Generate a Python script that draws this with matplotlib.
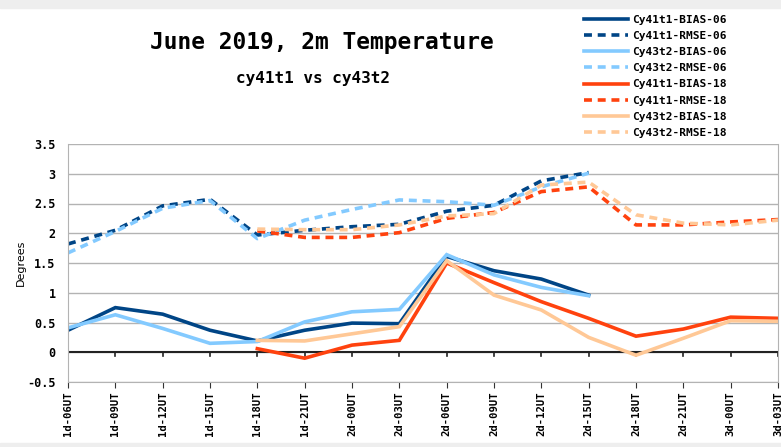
import numpy as np
import matplotlib
matplotlib.use('Agg')
import matplotlib.pyplot as plt
from matplotlib.patches import Rectangle

nan = np.nan

categories = ['1d-06UT', '1d-09UT', '1d-12UT', '1d-15UT', '1d-18UT', '1d-21UT',
              '2d-00UT', '2d-03UT', '2d-06UT', '2d-09UT', '2d-12UT', '2d-15UT',
              '2d-18UT', '2d-21UT', '3d-00UT', '3d-03UT']

cy41_bias_06 = [0.37, 0.75, 0.64, 0.37, 0.19, 0.37, 0.49, 0.48, 1.61, 1.37, 1.23, 0.96,
                nan, nan, nan, nan]
cy41_rmse_06 = [1.82, 2.05, 2.46, 2.57, 1.97, 2.05, 2.11, 2.15, 2.37, 2.47, 2.88, 3.02,
                nan, nan, nan, nan]
cy43_bias_06 = [0.41, 0.63, 0.40, 0.15, 0.18, 0.51, 0.68, 0.72, 1.64, 1.30, 1.09, 0.95,
                nan, nan, nan, nan]
cy43_rmse_06 = [1.67, 2.03, 2.42, 2.55, 1.91, 2.22, 2.40, 2.56, 2.53, 2.47, 2.78, 3.01,
                nan, nan, nan, nan]
cy41_bias_18 = [nan, nan, nan, nan, 0.06, -0.10, 0.12, 0.20, 1.50, 1.17, 0.85, 0.57,
                0.27, 0.39, 0.59, 0.57]
cy41_rmse_18 = [nan, nan, nan, nan, 2.04, 1.93, 1.93, 2.01, 2.25, 2.35, 2.70, 2.78,
                2.14, 2.14, 2.19, 2.23]
cy43_bias_18 = [nan, nan, nan, nan, 0.20, 0.19, 0.31, 0.43, 1.54, 0.96, 0.71, 0.25,
                -0.05, 0.235, 0.53, 0.52]
cy43_rmse_18 = [nan, nan, nan, nan, 2.07, 2.06, 2.06, 2.14, 2.29, 2.33, 2.81, 2.86,
                2.31, 2.17, 2.14, 2.22]

series = [
    ('Cy41t1-BIAS-06', cy41_bias_06, '#004586', '-'),
    ('Cy41t1-RMSE-06', cy41_rmse_06, '#004586', '--'),
    ('Cy43t2-BIAS-06', cy43_bias_06, '#83caff', '-'),
    ('Cy43t2-RMSE-06', cy43_rmse_06, '#83caff', '--'),
    ('Cy41t1-BIAS-18', cy41_bias_18, '#ff420e', '-'),
    ('Cy41t1-RMSE-18', cy41_rmse_18, '#ff420e', '--'),
    ('Cy43t2-BIAS-18', cy43_bias_18, '#ffc896', '-'),
    ('Cy43t2-RMSE-18', cy43_rmse_18, '#ffc896', '--'),
]

mono = 'DejaVu Sans Mono'

fig = plt.figure(figsize=[7.81, 4.47], dpi=100)
ax = fig.add_axes([68/781, 1 - 382/447, 710/781, 238/447])

x = np.arange(len(categories))
for name, vals, col, ls in series:
    ax.plot(x, vals, color=col, linestyle=ls, linewidth=2.6, label=name,
            dashes=(2.2, 1.6) if ls == '--' else (None, None),
            solid_joinstyle='miter')

ax.set_xlim(0, len(categories) - 1)
ax.set_ylim(-0.5, 3.5)
ax.set_yticks(np.arange(-0.5, 3.51, 0.5))
ax.set_yticklabels(['-0.5', '0', '0.5', '1', '1.5', '2', '2.5', '3', '3.5'],
                   family=mono, fontweight='bold', fontsize=8.5)
ax.set_xticks(x)
ax.set_xticklabels(categories, rotation=90, family=mono, fontweight='bold', fontsize=7.6)
ax.tick_params(axis='y', length=0, pad=9)
ax.tick_params(axis='x', length=4, direction='out', color='#333333', pad=3)
ax.grid(axis='y', color='#b3b3b3', linewidth=1)
ax.set_axisbelow(True)
ax.spines['top'].set_visible(False)
for s in ['left', 'right', 'bottom']:
    ax.spines[s].set_color('#b3b3b3')
ax.axhline(0, color='#222222', linewidth=1.5, zorder=1.5)
for xi in x:
    ax.plot([xi, xi], [0, -0.07], color='#222222', linewidth=1.2, zorder=1.5)
ax.set_ylabel('Degrees', fontsize=8, labelpad=1)

fig.text(322/781, 1 - 43/447, 'June 2019, 2m Temperature', ha='center', va='center',
         family=mono, fontweight='bold', fontsize=16.5)
fig.text(313/781, 1 - 78/447, 'cy41t1 vs cy43t2', ha='center', va='center',
         family=mono, fontweight='bold', fontsize=11.5)

leg = fig.legend(loc='upper left', bbox_to_anchor=(574/781, 1 - 5/447), frameon=False,
                 prop={'family': mono, 'weight': 'bold', 'size': 8},
                 handlelength=4.0, handletextpad=0.3, labelspacing=0.55)

# screenshot border strips
fig.patches.append(Rectangle((0, 1 - 8/447), 1, 8/447, transform=fig.transFigure,
                             color='#eeeeee', zorder=0))
fig.patches.append(Rectangle((0, 0), 1, 4/447, transform=fig.transFigure,
                             color='#eeeeee', zorder=0))

fig.savefig('out.png', dpi=100)
